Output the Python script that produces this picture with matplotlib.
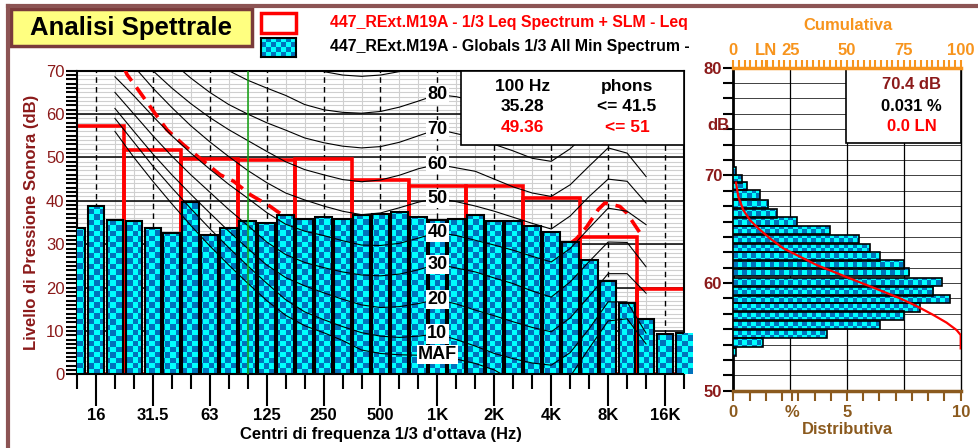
import numpy as np
import matplotlib
matplotlib.use("Agg")
import matplotlib.pyplot as plt
from matplotlib.colors import ListedColormap
from matplotlib.patches import Rectangle
from matplotlib.ticker import MultipleLocator, FixedLocator

plt.rcParams['font.family'] = ['Liberation Sans', 'DejaVu Sans']
plt.rcParams['font.weight'] = 'bold'
plt.rcParams['axes.labelweight'] = 'bold'

# ---- data -------------------------------------------------------------
# 1/3 octave centres, index 0 = 12.5 Hz ... index 32 = 20 kHz
third_idx = list(range(33))
min_spectrum = [33.7, 38.7, 35.5, 35.4, 33.7, 32.5, 39.8, 32.1, 33.7, 35.3,
                34.8, 36.7, 35.7, 36.2, 35.7, 36.7, 36.9, 37.4, 36.2, 35.6,
                35.7, 36.7, 35.4, 35.4, 34.3, 32.9, 30.6, 26.4, 21.4, 16.4,
                12.7, 9.3, 9.6]

octave_idx = [1, 4, 7, 10, 13, 16, 19, 22, 25, 28, 31]
octave_labels = ['16', '31.5', '63', '125', '250', '500', '1K', '2K', '4K', '8K', '16K']
leq_octave = [57.3, 51.7, 49.6, 49.36, 49.6, 44.8, 43.5, 43.5, 40.6, 31.7, 19.6]

dash_idx = [2.5, 2.64, 3.16, 4.04, 4.74, 5.62, 6.68, 7.55, 8.26, 9.14, 10.19, 10.54,
            11.58, 15.54, 17.55, 20.45, 23.53, 25.55, 26.34, 26.87, 27.48, 27.83,
            28.62, 28.98, 29.33, 29.85]
dash_db = [70.5, 69.1, 66.0, 60.6, 56.4, 52.9, 49.1, 46.0, 44.5, 41.4, 38.7, 37.6,
           34.7, 30.9, 31.7, 33.2, 28.3, 28.6, 31.3, 34.0, 38.0, 39.5,
           38.7, 37.2, 34.9, 31.5]

# equal loudness contours as drawn on the chart, 20 Hz (idx 2) .. 12.5 kHz (idx 30)
contour_idx = list(range(2, 31))
contour_maf = [56.0, 50.0, 44.5, 39.3, 34.3, 29.6, 25.2, 21.0, 17.0, 13.6, 11.2, 9.6,
               7.8, 5.6, 4.8, 4.5, 4.4, 4.5, 3.5, 2.5, 1.0, -1.5, -4.0, -6.0, -0.5,
               6.0, 12.3, 12.8, 7.0]
contour_10 = [59.0, 53.5, 48.0, 43.0, 38.2, 33.6, 29.2, 25.0, 21.0, 17.2, 14.4, 12.6,
              11.0, 9.6, 8.8, 8.5, 8.8, 9.3, 8.0, 6.5, 4.8, 3.6, 2.6, 2.1, 5.0,
              10.5, 16.7, 16.7, 9.5]
contour_20 = [61.3, 56.0, 50.8, 46.0, 41.5, 37.2, 33.0, 29.0, 25.2, 22.3, 20.4, 18.8,
              17.3, 16.0, 15.4, 15.6, 16.3, 17.3, 16.2, 14.8, 13.5, 12.1, 10.8, 9.8,
              13.0, 18.0, 23.2, 23.2, 18.7]
contour_30 = [65.0, 60.0, 55.0, 50.3, 46.0, 42.0, 38.0, 34.3, 30.5, 27.6, 25.8, 24.6,
              23.6, 22.9, 22.7, 23.1, 24.1, 25.4, 24.5, 23.6, 22.2, 20.9, 19.2, 17.8,
              21.3, 26.0, 30.5, 30.4, 24.8]
contour_40 = [68.6, 64.2, 59.5, 55.0, 51.0, 47.3, 43.8, 40.6, 37.3, 34.6, 33.0, 32.0,
              30.8, 29.8, 29.7, 30.2, 31.4, 32.7, 32.0, 30.9, 29.8, 28.6, 27.2, 25.9,
              29.0, 33.7, 38.3, 37.6, 34.5]
contour_50 = [76.0, 71.0, 66.0, 61.5, 57.3, 53.6, 50.2, 47.0, 44.2, 41.8, 40.2, 38.8,
              37.6, 36.8, 37.2, 38.4, 39.7, 40.6, 39.8, 38.8, 37.6, 36.2, 34.8, 33.5,
              36.5, 41.0, 45.0, 44.5, 39.5]
contour_60 = [80.0, 75.0, 70.0, 66.0, 62.4, 59.2, 56.4, 53.9, 51.4, 49.0, 47.2, 46.0,
              44.9, 44.4, 44.8, 45.9, 47.4, 48.4, 47.6, 46.8, 45.0, 43.2, 41.8, 41.0,
              43.7, 48.0, 52.2, 51.0, 45.6]
contour_70 = [84.0, 80.0, 76.0, 72.0, 68.3, 65.0, 62.2, 60.0, 58.0, 56.3, 54.5, 53.4,
              52.6, 52.2, 52.5, 53.5, 55.0, 56.5, 55.5, 54.5, 53.0, 51.5, 49.8, 49.1,
              52.0, 56.0, 60.0, 59.0, 54.0]
contour_80 = [90.0, 86.0, 82.0, 79.0, 76.0, 72.5, 70.0, 67.8, 66.0, 64.3, 62.2, 61.0,
              60.4, 60.2, 60.6, 61.6, 63.0, 64.5, 64.0, 63.0, 61.5, 59.8, 58.0, 57.0,
              60.0, 64.0, 68.0, 67.0, 62.0]
contour_90 = [98.0, 94.0, 90.0, 87.0, 84.0, 81.0, 78.0, 76.0, 74.5, 73.0, 71.5, 69.8,
              69.0, 68.7, 69.0, 69.8, 71.2, 72.5, 72.0, 71.0, 69.5, 67.5, 66.0, 65.0,
              68.0, 72.0, 76.0, 75.0, 70.0]
contour_names = ['MAF', '10', '20', '30', '40', '50', '60', '70', '80']
contour_label_db = [4.5, 9.3, 17.3, 25.4, 32.7, 40.6, 48.4, 56.5, 64.5]

# level distribution (right panel)
dist_db = [70.4, 69.67, 69.01, 68.24, 67.34, 66.47, 65.70, 64.95, 64.09, 63.25,
           62.48, 61.73, 61.02, 60.12, 59.23, 58.51, 57.74, 56.97, 56.10,
           55.26, 54.49, 53.62]
dist_pct = [0.12, 0.37, 0.59, 1.17, 1.54, 1.91, 2.81, 4.25, 5.53, 6.01, 6.45,
            7.51, 7.74, 9.16, 8.80, 9.53, 8.21, 7.52, 6.45, 4.13, 1.29, 0.12]
cum_pct = [1.2, 2.2, 4.4, 7.3, 11.0, 16.1, 22.0, 29.3, 36.7, 44.0, 51.3, 58.7,
           66.0, 73.3, 80.6, 88.0, 93.8, 98.2, 100, 100]
cum_db = [69.32, 68.02, 66.78, 65.85, 65.08, 64.15, 63.22, 62.45, 61.67, 61.05,
          60.43, 59.81, 59.20, 58.58, 57.86, 57.03, 56.32, 55.63, 55.17, 53.93]

# ---- style ------------------------------------------------------------
W, H = 979, 448
darkred = '#8b1a1a'
orange = '#f7941d'
brown = '#8b5a1e'
frame = '#8c5454'
checker_cmap = ListedColormap(['#00ffff', '#0072bc'])


def fx(px):
    return px / W


def fy(py):
    return 1 - py / H


def checker(ax, patches, xlim, ylim, cell_px, ax_px):
    nx = int(ax_px[0] / cell_px) + 2
    ny = int(ax_px[1] / cell_px) + 2
    board = np.add.outer(np.arange(ny), np.arange(nx)) % 2
    dx = (xlim[1] - xlim[0]) * cell_px / ax_px[0]
    dy = (ylim[1] - ylim[0]) * cell_px / ax_px[1]
    for p in patches:
        im = ax.imshow(board, cmap=checker_cmap, interpolation='nearest',
                       origin='lower', aspect='auto', zorder=3,
                       extent=(xlim[0], xlim[0] + nx * dx, ylim[0], ylim[0] + ny * dy))
        im.set_clip_path(p)


fig = plt.figure(figsize=(W / 100, H / 100), dpi=100)
fig.patch.set_facecolor('white')

# frame lines
fig.add_artist(plt.Line2D([fx(8), 1], [fy(6), fy(6)], color=frame, lw=3))
fig.add_artist(plt.Line2D([fx(8), fx(8)], [fy(6), 0], color=frame, lw=3))

# title box
fig.add_artist(Rectangle((fx(11), fy(46)), fx(241), 37 / H, facecolor='#ffff80',
                         edgecolor='#7a3b3b', lw=2.5))
fig.text(fx(131), fy(28), 'Analisi Spettrale', fontsize=18.5, ha='center', va='center',
         color='black')

# legend
fig.add_artist(Rectangle((fx(261), fy(33)), fx(35), 20 / H, facecolor='white',
                         edgecolor='red', lw=2.5))
leg_ax = fig.add_axes([fx(261), fy(57), fx(35), 19 / H])
leg_board = np.add.outer(np.arange(4), np.arange(7)) % 2
leg_ax.imshow(leg_board, cmap=checker_cmap, interpolation='nearest', aspect='auto')
leg_ax.set_xticks([])
leg_ax.set_yticks([])
for s in leg_ax.spines.values():
    s.set_linewidth(1.5)
fig.text(fx(330), fy(22), '447_RExt.M19A - 1/3 Leq Spectrum + SLM - Leq',
         fontsize=11.4, color='red', va='center')
fig.text(fx(330), fy(47), '447_RExt.M19A - Globals 1/3 All Min Spectrum -',
         fontsize=11.4, color='black', va='center')

# ---- main spectrum axes ----------------------------------------------
ax = fig.add_axes([fx(77), fy(374.3), fx(607), 303.6 / H])
xlim = (0, 32)
ylim = (0, 70)

for v in range(0, 71):
    ax.axhline(v, color='#cfcfcf', lw=0.8, zorder=1)
for v in range(0, 71, 10):
    ax.axhline(v, color='black', lw=1.1, zorder=1.2)
for i in third_idx:
    if i in octave_idx:
        ax.axvline(i, color='black', lw=1, ls=(0, (4, 3)), zorder=1.2)
    else:
        ax.axvline(i, color='#cfcfcf', lw=0.8, zorder=1)

ax.bar(octave_idx, leq_octave, width=3, fill=False, edgecolor='red', lw=2.6, zorder=2.5)
ax.plot(dash_idx, dash_db, color='red', lw=2.6, ls=(0, (4, 2.2)), zorder=2.8)

bars = ax.bar(third_idx, min_spectrum, width=0.88, facecolor='none',
              edgecolor='black', lw=1.5, zorder=3.5)
checker(ax, bars, xlim, ylim, 5.5, (607, 303.6))

contours = [contour_maf, contour_10, contour_20, contour_30, contour_40,
            contour_50, contour_60, contour_70, contour_80, contour_90]
for c in contours:
    ax.plot(contour_idx, c, color='black', lw=0.8, zorder=4)

ax.axvline(9, color='#10a010', lw=1.1, zorder=4.5)

for name, lvl in zip(contour_names, contour_label_db):
    ax.text(19, lvl, name, fontsize=13, ha='center', va='center', zorder=5,
            bbox=dict(facecolor='white', edgecolor='none', pad=0.8))

# info box
ax.add_patch(Rectangle((20.25, 52.9), 11.75, 17.1, facecolor='white', edgecolor='black',
                       lw=1.2, zorder=6))
ax.text(23.5, 66.3, '100 Hz', fontsize=12.5, ha='center', va='center', zorder=7)
ax.text(29.0, 66.3, 'phons', fontsize=12.5, ha='center', va='center', zorder=7)
ax.text(23.5, 61.8, '35.28', fontsize=12.5, ha='center', va='center', zorder=7)
ax.text(29.0, 61.8, '<= 41.5', fontsize=12.5, ha='center', va='center', zorder=7)
ax.text(23.5, 56.9, '49.36', fontsize=12.5, ha='center', va='center', color='red', zorder=7)
ax.text(29.0, 56.9, '<= 51', fontsize=12.5, ha='center', va='center', color='red', zorder=7)

ax.set_xlim(xlim)
ax.set_ylim(ylim)
ax.xaxis.set_major_locator(FixedLocator(octave_idx))
ax.xaxis.set_minor_locator(FixedLocator(third_idx))
ax.set_xticklabels(octave_labels, fontsize=12)
ax.tick_params(axis='x', which='major', length=23, width=1.5, direction='out', pad=1)
ax.tick_params(axis='x', which='minor', length=11, width=1.5, direction='out')
ax.yaxis.set_major_locator(MultipleLocator(10))
ax.yaxis.set_minor_locator(MultipleLocator(1))
ax.tick_params(axis='y', which='both', length=8, width=1.5, direction='out',
               labelcolor=darkred, labelsize=12, pad=1)
for lab in ax.get_yticklabels():
    lab.set_fontweight('normal')
for s in ax.spines.values():
    s.set_linewidth(1.5)
ax.set_xlabel("Centri di frequenza 1/3 d'ottava (Hz)", fontsize=12, labelpad=3)
ax.set_ylabel('Livello di Pressione Sonora (dB)', fontsize=12, color=darkred, labelpad=5)

# ---- distribution axes -------------------------------------------------
ax2 = fig.add_axes([fx(733.3), fy(390.7), fx(227.4), 323 / H])
x2lim = (0, 10)
y2lim = (50, 80)
for v in np.arange(50, 80.01, 10 / 7):
    ax2.axhline(v, color='#404040', lw=0.7, zorder=1)
for v in [2.5, 5, 7.5]:
    ax2.axvline(v, color='black', lw=0.9, zorder=1)
hb = ax2.barh(dist_db, dist_pct, height=0.78, facecolor='none', edgecolor='black',
              lw=1.2, zorder=3.5)
checker(ax2, hb, x2lim, y2lim, 4.6, (227.4, 323))
ax2.add_patch(Rectangle((4.94, 72.98), 5.06, 7.02, facecolor='white', edgecolor='black',
                        lw=1.2, zorder=6))
ax2.text(7.85, 78.4, '70.4 dB', fontsize=12, ha='center', va='center', color=darkred, zorder=7)
ax2.text(7.85, 76.4, '0.031 %', fontsize=12, ha='center', va='center', color='black', zorder=7)
ax2.text(7.85, 74.5, '0.0 LN', fontsize=12, ha='center', va='center', color='red', zorder=7)

ax2.set_xlim(x2lim)
ax2.set_ylim(y2lim)
ax2.xaxis.set_major_locator(FixedLocator([0, 2.6, 5, 10]))
ax2.set_xticklabels(['0', '%', '5', '10'], fontsize=12, color=brown)
ax2.xaxis.set_minor_locator(MultipleLocator(5 / 7))
ax2.tick_params(axis='x', which='both', length=7, width=1.5, color=brown, direction='out')
ax2.yaxis.set_major_locator(MultipleLocator(10))
ax2.yaxis.set_minor_locator(MultipleLocator(10 / 7))
ax2.tick_params(axis='y', which='both', length=7, width=1.5, direction='out',
                labelcolor=darkred, labelsize=12, pad=1)
ax2.set_xlabel('Distributiva', fontsize=12, color=brown, labelpad=1)
ax2.spines['bottom'].set_color(brown)
ax2.spines['bottom'].set_linewidth(2.5)
ax2.spines['left'].set_linewidth(2)
ax2.spines['right'].set_linewidth(1)
ax2.spines['top'].set_visible(False)
fig.text(fx(718), fy(125), 'dB', fontsize=12, color=darkred, ha='center', va='center')

ax3 = ax2.twiny()
ax3.plot(cum_pct, cum_db, color='red', lw=1.6, zorder=5)
ax3.set_xlim(0, 100)
ax3.set_ylim(y2lim)
ax3.xaxis.set_major_locator(FixedLocator([0, 14.5, 25, 50, 75, 100]))
ax3.set_xticklabels(['0', 'LN', '25', '50', '75', '100'], fontsize=12, color=orange)
ax3.xaxis.set_minor_locator(MultipleLocator(2.5))
ax3.tick_params(axis='x', which='both', length=6, width=1.5, color=orange,
                direction='out', pad=1)
ax3.spines['top'].set_color(orange)
ax3.spines['top'].set_linewidth(2.5)
for k in ['left', 'right', 'bottom']:
    ax3.spines[k].set_visible(False)
fig.text(fx(848), fy(25), 'Cumulativa', fontsize=12, color=orange, ha='center', va='center')

fig.savefig('out.png', dpi=100)
